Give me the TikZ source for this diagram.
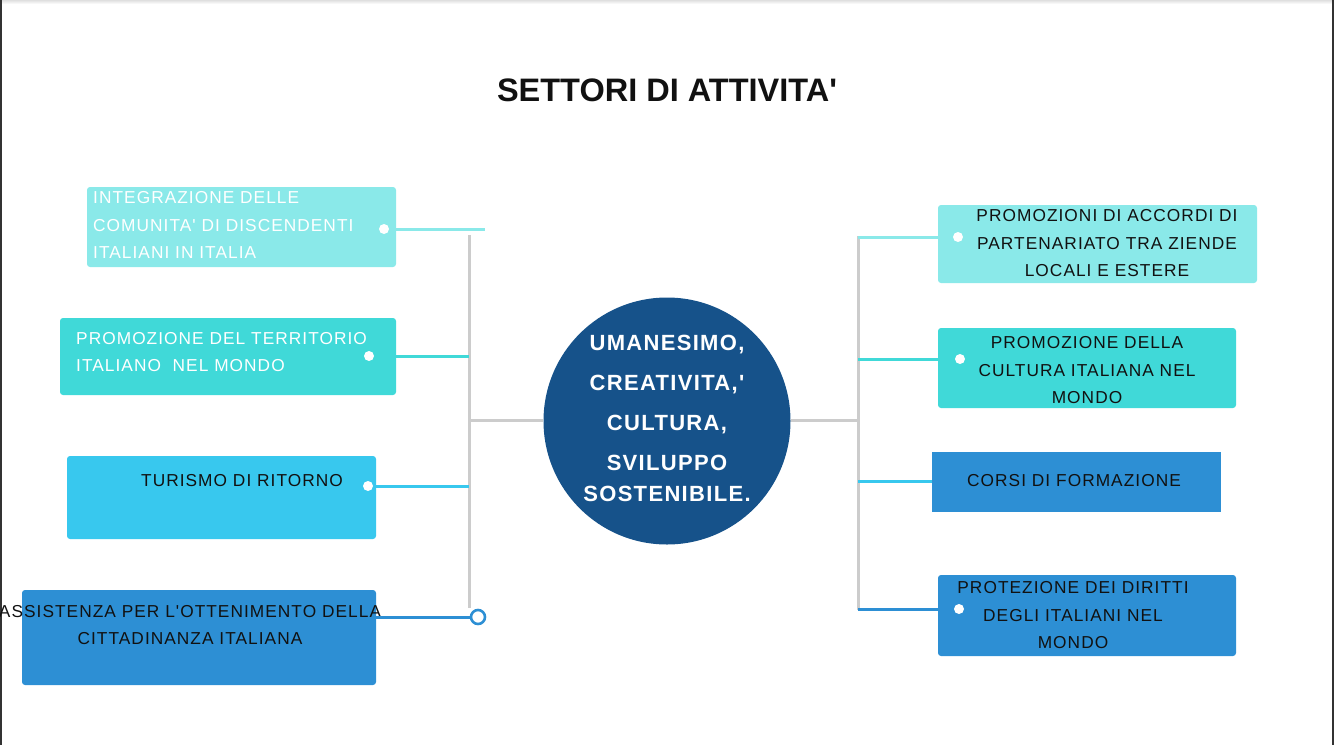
\documentclass[tikz,border=0pt]{standalone}
\usepackage{fontspec}
\setmainfont{Liberation Sans}
\newfontfamily\boxfont[LetterSpace=6]{Liberation Sans}
\newfontfamily\titlefont{Liberation Sans}
\definecolor{cLight}{HTML}{8AE9E9}
\definecolor{cTurq}{HTML}{40D9D8}
\definecolor{cSky}{HTML}{38C8EE}
\definecolor{cBlue}{HTML}{2D8FD4}
\definecolor{cNavy}{HTML}{16528A}
\definecolor{cTrunk}{HTML}{CCCCCC}
\definecolor{cInk}{HTML}{111111}
\tikzset{
  boxshape/.style={rectangle, rounded corners=3pt, inner sep=0pt, draw=none},
  boxtext/.style={font=\boxfont\fontsize{17.3}{27.5}\selectfont, inner sep=0pt, text=cInk},
  whitetext/.style={text=white},
  dot/.style={circle, fill=white, inner sep=0pt, minimum size=10pt},
  opendot/.style={circle, fill=white, draw=cBlue, line width=2.6pt, inner sep=0pt, minimum size=14pt},
  trunk/.style={draw=cTrunk, line width=3pt},
  conn/.style={line width=3pt},
}
\begin{document}
\begin{tikzpicture}[x=1pt,y=-1pt]
\useasboundingbox (0,0) rectangle (1334,745);
% frame
\shade[top color=gray!25, bottom color=white] (0,0) rectangle (1334,4);
\draw[line width=2pt, draw=black!80] (1,0) -- (1,745);
\draw[line width=2pt, draw=black!80] (1333,0) -- (1333,745);

% title
\node[font=\titlefont\bfseries\fontsize{32.5}{36}\selectfont, text=cInk, inner sep=0pt] (title) at (667,90) {SETTORI DI ATTIVITA'};

% centre
\node[circle, fill=cNavy, minimum size=247pt, inner sep=0pt] (hub) at (667,421) {};
\node[font=\boxfont\bfseries\fontsize{22}{40}\selectfont, text=white, align=center, inner sep=0pt] (hubtext) at (667,418)
  {UMANESIMO,\\CREATIVITA,'\\CULTURA,\\SVILUPPO\\[-9pt]SOSTENIBILE.};

% trunks
\coordinate (lt1) at (469,235);
\coordinate (lt2) at (469,608);
\coordinate (lmid) at (469,420);
\coordinate (rt1) at (858,236);
\coordinate (rt2) at (858,610);
\coordinate (rmid) at (858,420);
\draw[trunk] (lt1) -- (lt2);
\draw[trunk] (rt1) -- (rt2);
\draw[trunk] (lmid) -- (hub.west |- lmid);
\draw[trunk] (hub.east |- rmid) -- (rmid);

% left boxes
\node[boxshape, fill=cLight, minimum width=309pt, minimum height=80pt] (b1) at (241.5,227) {};
\node[boxshape, fill=cTurq, minimum width=336pt, minimum height=77pt] (b2) at (228,356.5) {};
\node[boxshape, fill=cSky, minimum width=309pt, minimum height=83pt] (b3) at (221.5,497.5) {};
\node[boxshape, fill=cBlue, minimum width=354pt, minimum height=95pt] (b4) at (199,637.5) {};

\node[boxtext, whitetext, anchor=west, align=left] (t1) at (93,225)
  {INTEGRAZIONE DELLE\\COMUNITA' DI DISCENDENTI\\ITALIANI IN ITALIA};
\node[boxtext, whitetext, anchor=west, align=left] (t2) at (76,352)
  {PROMOZIONE DEL TERRITORIO\\ITALIANO\ \ NEL MONDO};
\node[boxtext] (t3) at (242,481) {TURISMO DI RITORNO};
\node[boxtext, align=center] (t4) at (190,625)
  {ASSISTENZA PER L'OTTENIMENTO DELLA\\CITTADINANZA ITALIANA};

% left connectors
\node[dot] (d1) at (384,229) {};
\node[dot] (d2) at (369,356) {};
\node[dot] (d3) at (368,486) {};
\node[opendot] (o4) at (478,617) {};
\coordinate (e1) at (485,229);
\draw[conn, draw=cLight] (b1.east |- d1) -- (e1);
\draw[conn, draw=cTurq] (b2.east |- d2) -- (lt1 |- d2);
\draw[conn, draw=cSky] (b3.east |- d3) -- (lt1 |- d3);
\draw[conn, draw=cBlue] (b4.east |- o4) -- (o4.west);

% right boxes
\node[boxshape, fill=cLight, minimum width=319pt, minimum height=78pt] (r1) at (1097.5,244) {};
\node[boxshape, fill=cTurq, minimum width=298pt, minimum height=80pt] (r2) at (1087,368) {};
\node[rectangle, fill=cBlue, minimum width=289pt, minimum height=60pt, inner sep=0pt] (r3) at (1076.5,482) {};
\node[boxshape, fill=cBlue, minimum width=298pt, minimum height=81pt] (r4) at (1087,615.5) {};

\node[boxtext, align=center] (s1) at (1107,243.5)
  {PROMOZIONI DI ACCORDI DI\\PARTENARIATO TRA ZIENDE\\LOCALI E ESTERE};
\node[boxtext, align=center] (s2) at (1087,370.5)
  {PROMOZIONE DELLA\\CULTURA ITALIANA NEL\\MONDO};
\node[boxtext] (s3) at (1074,481) {CORSI DI FORMAZIONE};
\node[boxtext, align=center] (s4) at (1073,615.5)
  {PROTEZIONE DEI DIRITTI\\DEGLI ITALIANI NEL\\MONDO};

\node[dot] (q1) at (958,237) {};
\node[dot] (q2) at (960,359) {};
\node[dot] (q4) at (959,609) {};

\draw[conn, draw=cLight] (rt1 |- q1) -- (r1.west |- q1);
\draw[conn, draw=cTurq] (rt1 |- q2) -- (r2.west |- q2);
\draw[conn, draw=cSky] (rt1 |- s3) -- (r3.west |- s3);
\draw[conn, draw=cBlue] (rt1 |- q4) -- (r4.west |- q4);
\end{tikzpicture}
\end{document}
